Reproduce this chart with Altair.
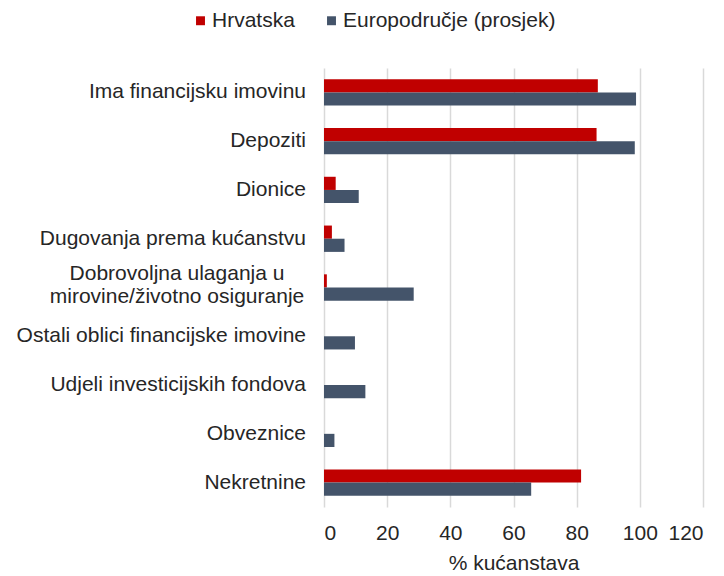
import altair as alt
import pandas as pd

categories = [
    "Ima financijsku imovinu",
    "Depoziti",
    "Dionice",
    "Dugovanja prema kućanstvu",
    "Dobrovoljna ulaganja u\nmirovine/životno osiguranje",
    "Ostali oblici financijske imovine",
    "Udjeli investicijskih fondova",
    "Obveznice",
    "Nekretnine",
]
series = ["Hrvatska", "Europodručje (prosjek)"]
hrvatska = [86.7, 86.3, 3.7, 2.5, 0.9, 0.0, 0.0, 0.0, 81.4]
euro = [98.8, 98.4, 11.0, 6.5, 28.4, 9.8, 13.1, 3.3, 65.6]
colors = ["#C00000", "#44546A"]

rows = []
for c, h, e in zip(categories, hrvatska, euro):
    rows.append({"cat": c, "series": series[0], "value": h})
    rows.append({"cat": c, "series": series[1], "value": e})
df = pd.DataFrame(rows)
lab = pd.DataFrame({"cat": categories})
lab["multi"] = lab["cat"].str.contains("\n")

FONT = "Liberation Sans"
FS = 21
TXT = "#262626"
ycat = alt.Y("cat:N", sort=categories, axis=None,
             scale=alt.Scale(paddingInner=0.46, paddingOuter=0.23))

bars = alt.Chart(df).mark_bar().encode(
    x=alt.X("value:Q", scale=alt.Scale(domain=[0, 120]),
            axis=alt.Axis(values=[0, 20, 40, 60, 80, 100, 120], title="% kućanstava",
                          grid=True, gridColor="#d9d9d9", gridWidth=1.5,
                          domain=False, ticks=False, labelFont=FONT, labelFontSize=FS,
                          labelColor=TXT, labelPadding=15,
                          titleFont=FONT, titleFontSize=FS, titleFontWeight="normal",
                          titleColor=TXT, titlePadding=9)),
    y=ycat,
    yOffset=alt.YOffset("series:N", sort=series),
    color=alt.Color("series:N", sort=series,
                    scale=alt.Scale(domain=series, range=colors),
                    legend=alt.Legend(title=None, orient="none", direction="horizontal",
                                      legendX=-134, legendY=-58, symbolType="square",
                                      symbolSize=80, symbolStrokeWidth=0,
                                      labelFont=FONT, labelFontSize=FS, labelLimit=0,
                                      labelColor=TXT, columnPadding=26,
                                      labelOffset=1)),
)

single = alt.Chart(lab).transform_filter("!datum.multi").mark_text(
    align="right", baseline="middle", font=FONT, fontSize=FS, color=TXT
).encode(y=ycat, x=alt.value(-18), text="cat:N")

multi = alt.Chart(lab).transform_filter("datum.multi").transform_calculate(
    lines="split(datum.cat, '\\n')"
).mark_text(
    align="center", baseline="middle", font=FONT, fontSize=FS, color=TXT,
    lineHeight=23, dy=-14
).encode(y=ycat, x=alt.value(-147), text="lines:N")

chart = alt.layer(bars, single, multi).properties(
    width=379, height=439,
    autosize=alt.AutoSizeParams(type="none"),
    padding={"left": 316, "top": 60, "right": 10, "bottom": 68},
).configure_view(stroke=None)

chart.save("out.html", embed_options={"renderer": "svg", "actions": False})
